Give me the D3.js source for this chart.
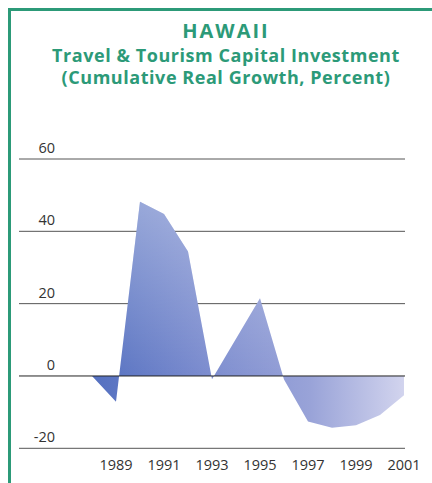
<!DOCTYPE html>
<html>
<head>
<meta charset="utf-8">
<script src="https://cdn.jsdelivr.net/npm/d3@7/dist/d3.min.js"></script>
<style>
  html, body { margin: 0; padding: 0; background: #fff; }
  svg { display: block; }
</style>
</head>
<body>
<svg id="chart" width="432" height="483"></svg>
<script>
// Hawaii travel & tourism capital investment, cumulative real growth (%)
const years  = [1988, 1989, 1990, 1991, 1992, 1993, 1994, 1995, 1996, 1997, 1998, 1999, 2000, 2001];
const growth = [0, -7.1, 48.2, 44.8, 34.4, -0.9, 10.3, 21.5, -1.0, -12.6, -14.3, -13.6, -10.8, -5.3];
const yTicks = [60, 40, 20, 0, -20];
const xTickLabels = [1989, 1991, 1993, 1995, 1997, 1999, 2001];
const title = "HAWAII";
const subtitleLines = ["Travel & Tourism Capital Investment", "(Cumulative Real Growth, Percent)"];

const svg = d3.select("#chart");
const green = "#2c9a78";
const font = "'Open Sans', sans-serif";

// frame
svg.append("path")
  .attr("d", "M9.5,483 L9.5,9.5 L432,9.5")
  .attr("fill", "none")
  .attr("stroke", green)
  .attr("stroke-width", 3);

// title
svg.append("text")
  .attr("x", 226)
  .attr("y", 38)
  .attr("text-anchor", "middle")
  .attr("font-family", font)
  .attr("font-weight", 700)
  .attr("font-size", 20)
  .attr("letter-spacing", 2)
  .attr("fill", green)
  .text(title);

// two-line subtitle
svg.selectAll("text.sub")
  .data(subtitleLines)
  .join("text")
  .attr("class", "sub")
  .attr("x", 226)
  .attr("y", (d, i) => 62 + i * 21.5)
  .attr("text-anchor", "middle")
  .attr("font-family", font)
  .attr("font-weight", 700)
  .attr("font-size", 18)
  .attr("letter-spacing", 0.55)
  .attr("fill", green)
  .text(d => d);

const x = d3.scaleLinear().domain([1988, 2001]).range([92, 404]);
const y = d3.scaleLinear().domain([-20, 60]).range([448.3, 159]);

// fill gradients
const defs = svg.append("defs");
const hg = defs.append("linearGradient")
  .attr("id", "fillH").attr("gradientUnits", "userSpaceOnUse")
  .attr("x1", x(1988)).attr("x2", x(2001)).attr("y1", 0).attr("y2", 0);
hg.append("stop").attr("offset", "0").attr("stop-color", "#5470c0");
hg.append("stop").attr("offset", "0.35").attr("stop-color", "#7a8bce");
hg.append("stop").attr("offset", "0.7").attr("stop-color", "#99a3d8");
hg.append("stop").attr("offset", "1").attr("stop-color", "#d2d4ee");

const vg = defs.append("linearGradient")
  .attr("id", "fillV").attr("gradientUnits", "userSpaceOnUse")
  .attr("x1", 0).attr("x2", 0).attr("y1", y(50)).attr("y2", y(0));
vg.append("stop").attr("offset", "0").attr("stop-color", "#fff").attr("stop-opacity", 0.35);
vg.append("stop").attr("offset", "1").attr("stop-color", "#fff").attr("stop-opacity", 0);

// gridlines
svg.selectAll("line.grid")
  .data(yTicks.filter(d => d !== 0))
  .join("line")
  .attr("class", "grid")
  .attr("x1", 19).attr("x2", 405)
  .attr("y1", d => y(d)).attr("y2", d => y(d))
  .attr("stroke", "#555")
  .attr("stroke-width", 1);

// area between series and zero
const area = d3.area()
  .x((d, i) => x(years[i]))
  .y0(y(0))
  .y1(d => y(d));

svg.append("path").datum(growth).attr("d", area).attr("fill", "url(#fillH)");
svg.append("path").datum(growth).attr("d", area).attr("fill", "url(#fillV)");

// zero line
svg.append("line")
  .attr("x1", 19).attr("x2", 405)
  .attr("y1", y(0)).attr("y2", y(0))
  .attr("stroke", "#222")
  .attr("stroke-width", 1);

// y labels
svg.selectAll("text.ylab")
  .data(yTicks)
  .join("text")
  .attr("class", "ylab")
  .attr("x", 55)
  .attr("y", d => y(d) - 6)
  .attr("text-anchor", "end")
  .attr("font-family", font)
  .attr("font-size", 14.5)
  .attr("fill", "#333")
  .text(d => d);

// x labels
svg.selectAll("text.xlab")
  .data(xTickLabels)
  .join("text")
  .attr("class", "xlab")
  .attr("x", d => x(d))
  .attr("y", 470)
  .attr("text-anchor", "middle")
  .attr("font-family", font)
  .attr("font-size", 14.5)
  .attr("fill", "#333")
  .text(d => d);
</script>
</body>
</html>
